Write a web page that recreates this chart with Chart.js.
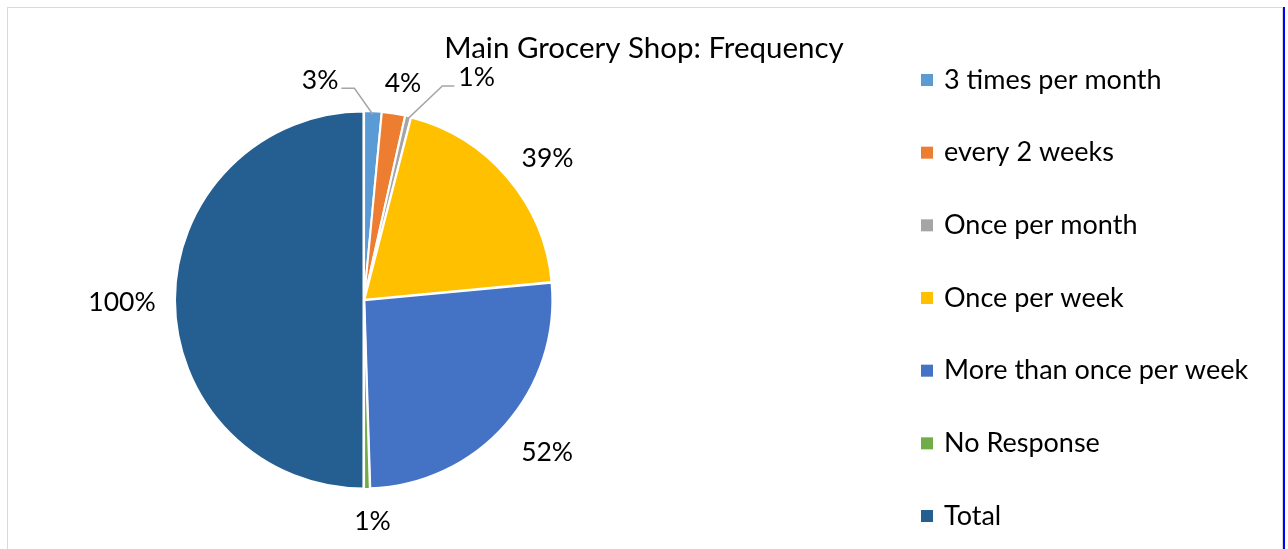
<!DOCTYPE html>
<html>
<head>
<meta charset="utf-8">
<script src="https://cdn.jsdelivr.net/npm/chart.js@4.4.1/dist/chart.umd.min.js"></script>
<style>
  html,body{margin:0;padding:0;background:#fff;overflow:hidden}
  #wrap{position:relative;width:1288px;height:549px}
  #wrap canvas{position:absolute;left:0;top:0}
  #frame{position:absolute;left:7px;top:7px;width:1274px;height:560px;
    border-left:1px solid #d9d9d9;border-top:1px solid #d9d9d9;border-right:1px solid #d9d9d9}
  #edge{position:absolute;left:1283px;top:7px;width:2px;height:542px;background:#0000ff}
</style>
</head>
<body>
<div id="wrap">
  <canvas id="pie" width="1288" height="549"></canvas>
  <div id="frame"></div>
  <div id="edge"></div>
</div>
<script>
const titleText = 'Main Grocery Shop: Frequency';
const categories = ['3 times per month','every 2 weeks','Once per month','Once per week','More than once per week','No Response','Total'];
const shares = [3, 4, 1, 39, 52, 1, 100];
const sliceColors = ['#5b9bd5','#ed7d31','#a5a5a5','#ffc000','#4472c4','#70ad47','#255e91'];

const FONT = 'Lato, "Open Sans", sans-serif';

// where each value label sits: extra distance past the rim, angular shift (deg), leader side
const labelPlace = [
  {extra:36, shift:-14,  leader:'right'},
  {extra:32, shift:1.2},
  {extra:61, shift:13.4, leader:'left'},
  {extra:44, shift:2.8},
  {extra:50, shift:-1.7},
  {extra:34, shift:-1.3},
  {extra:54, shift:-0.5}
];

const pieDecor = {
  id:'pieDecor',
  afterDatasetsDraw(chart){
    const ctx = chart.ctx;
    const meta = chart.getDatasetMeta(0);
    ctx.save();

    // title
    ctx.fillStyle = '#000';
    ctx.font = '29.5px ' + FONT;
    ctx.textAlign = 'center';
    ctx.textBaseline = 'middle';
    ctx.fillText(titleText, chart.width / 2, 48);

    // value labels with leader lines for the thin slices
    ctx.font = '26.5px ' + FONT;
    meta.data.forEach((arc, i) => {
      const p = arc.getProps(['x','y','startAngle','endAngle','outerRadius'], true);
      const mid = (p.startAngle + p.endAngle) / 2;
      const pl = labelPlace[i];
      const a = mid + pl.shift * Math.PI / 180;
      const d = p.outerRadius + pl.extra;
      const lx = p.x + Math.cos(a) * d;
      const ly = p.y + Math.sin(a) * d;
      const txt = shares[i] + '%';
      ctx.fillStyle = '#000';
      ctx.fillText(txt, lx, ly);
      if (pl.leader) {
        const w = ctx.measureText(txt).width;
        const sx = pl.leader === 'right' ? lx + w / 2 + 3 : lx - w / 2 - 4;
        const kx = pl.leader === 'right' ? sx + 13 : sx - 12;
        const sy = ly + 8;
        const ex = p.x + Math.cos(mid) * (p.outerRadius - 2);
        const ey = p.y + Math.sin(mid) * (p.outerRadius - 2);
        ctx.strokeStyle = '#a6a6a6';
        ctx.lineWidth = 1.5;
        ctx.beginPath();
        ctx.moveTo(sx, sy);
        ctx.lineTo(kx, sy);
        ctx.lineTo(ex, ey);
        ctx.stroke();
      }
    });

    // legend on the right
    ctx.font = '27px ' + FONT;
    ctx.textAlign = 'left';
    const step = 72.67;
    categories.forEach((name, i) => {
      const y = 80 + i * step;
      ctx.fillStyle = sliceColors[i];
      ctx.fillRect(921, y - 6, 12, 12);
      ctx.fillStyle = '#000';
      ctx.fillText(name, 944, y);
    });
    ctx.restore();
  }
};

new Chart(document.getElementById('pie'), {
  type:'pie',
  data:{
    labels:categories,
    datasets:[{
      data:shares,
      backgroundColor:sliceColors,
      borderColor:'#fff',
      borderWidth:2,
      offset:2
    }]
  },
  options:{
    responsive:false,
    animation:false,
    layout:{padding:{left:174, right:734, top:110, bottom:59}},
    plugins:{
      legend:{display:false},
      title:{display:false},
      tooltip:{enabled:false}
    }
  },
  plugins:[pieDecor]
});
</script>
</body>
</html>
